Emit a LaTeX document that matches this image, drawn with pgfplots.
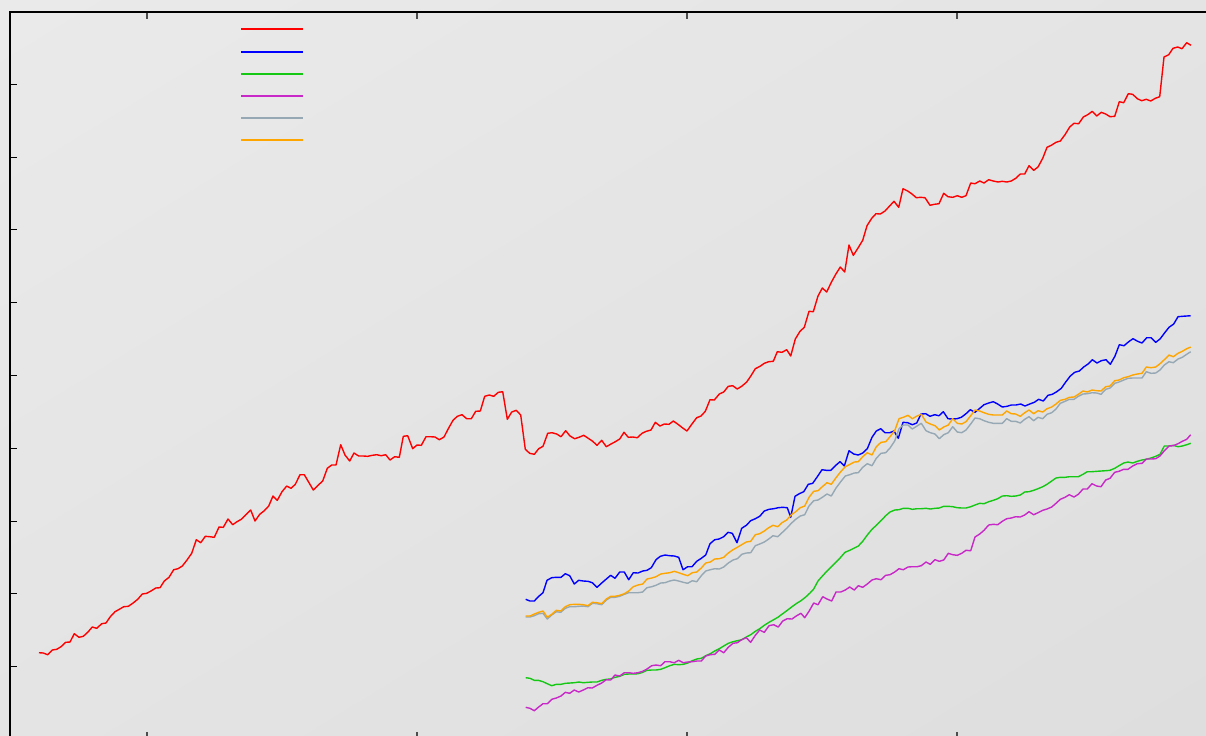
\documentclass[border=0pt]{standalone}
\usepackage{pgfplots}
\pgfplotsset{compat=1.18}
\usetikzlibrary{shadings}
\definecolor{bgA}{RGB}{234,234,234}
\definecolor{bgB}{RGB}{228,228,228}
\definecolor{bgC}{RGB}{222,222,222}
\definecolor{cRed}{RGB}{255,0,0}
\definecolor{cBlue}{RGB}{0,0,255}
\definecolor{cGreen}{RGB}{20,200,20}
\definecolor{cMag}{RGB}{200,40,200}
\definecolor{cGray}{RGB}{150,168,180}
\definecolor{cOrange}{RGB}{255,165,0}
\begin{document}
\begin{tikzpicture}
\path[use as bounding box] (0,0) rectangle (603bp,-368bp);
\shade[upper left=bgA, upper right=bgB, lower left=bgB, lower right=bgC] (0,0) rectangle (603bp,-368bp);
\clip (0,0) rectangle (603bp,-368bp);
\begin{axis}[
  at={(5bp,-5.8bp)}, anchor=north west,
  scale only axis, width=610bp, height=363.85bp,
  xmin=10, xmax=1230, ymin=11.6, ymax=739.3, y dir=reverse,
  axis line style={line width=1bp, black},
  xtick={146.7,416.7,686.7,956.7},
  ytick={84.3,157.1,229.9,302.7,375.5,448.3,521.1,593.9,666.7},
  xticklabels={}, yticklabels={},
  tick align=inside, major tick length=3.5bp,
  x tick style={line width=1bp, black!70},
  y tick style={line width=0.5bp, black},
  legend style={at={(axis description cs:0.1885,0.9913)}, anchor=north west,
    draw=none, fill=none, inner sep=0pt, row sep=0pt, column sep=0pt,
    nodes={inner sep=0pt, minimum height=11.1bp, text depth=0pt, text height=0pt}},
  legend image code/.code={\draw[#1, line width=0.95bp] (0bp,0bp) -- (31bp,0bp);},
  every axis plot/.append style={line width=0.7bp, line join=round},
]
\addplot[color=cRed, mark=none] coordinates {(39,652.7)(43.3,653)(47.7,654.7)(52.3,650)(56.7,649.3)(61,646.7)(65.7,642.3)(70,642)(74.3,633.7)(79,637.3)(83.3,636.3)(87.7,632.3)(92.3,627)(96.7,628.3)(101.7,623.7)(106,623)(110.3,616.7)(115,611.7)(119.3,609.3)(123.7,606.7)(128.3,606.3)(132.7,603.3)(137.7,599.3)(142.3,594)(146.7,593.3)(151,591)(155.7,588)(160,587.7)(164.3,581)(169,577.3)(173.7,569.7)(178,568.7)(182.3,566)(187,560)(191.7,553.3)(196.3,539.7)(200.7,542.7)(205.3,536.3)(209.7,536.7)(214.3,537.3)(219,527)(223.3,527.3)(228,519)(232.7,524.7)(237,521.7)(241.7,519)(246.3,514.3)(250.7,510)(255,521)(259.7,514.3)(264.3,510.7)(268.7,506)(273,496)(277.3,500.3)(282,491.7)(286.7,486)(291,488.3)(295.3,484.3)(300,474.7)(304.3,474.7)(309,482.7)(313.3,490)(318,485.3)(322.7,481)(327.3,468.3)(331.7,465)(336,465)(340.7,444.7)(345,455)(349.7,461)(354,453)(358.7,456)(363.3,456)(367.7,456.3)(372.3,455.3)(376.7,454.7)(381.3,455.7)(385.7,454.7)(390,460)(394.7,456.7)(399.3,457.3)(403.3,436.3)(407.7,435.7)(412.7,448.7)(417,445)(421.3,445.3)(426,436.7)(430.3,436.7)(435,437)(439.3,439.7)(444,437)(448.3,428.7)(453,420.3)(457.3,416.3)(462,414.7)(466.7,418.7)(471.3,418.7)(475.7,411.3)(480.3,411)(484.7,396.3)(489.3,395)(493.7,396.3)(498.3,392.3)(502.7,391.7)(507.3,419.3)(511.7,412)(516.3,410.3)(520.7,415)(525.3,449.3)(529.7,453.3)(534.3,454.3)(538.7,448.7)(543,446.3)(547.7,433.3)(552,432.7)(556.7,434)(561,436.7)(565.7,430.7)(570,436)(574.7,438.7)(579,437.3)(583.7,435.3)(588.3,438.3)(592.7,441.3)(597,445.3)(601.7,440.3)(606.3,446.7)(611,444)(615.3,441.7)(619.7,439)(624,432.3)(628.3,437.3)(633,437)(637.3,437.7)(642,433.3)(646.3,431.3)(651,430)(655.3,422.3)(660,426)(664.3,424)(669,424.3)(673.3,421)(678,424.3)(682.3,427.7)(687,431)(691.7,424.3)(696.7,417.7)(701,416)(705.3,411.3)(710,399.7)(714.3,400)(719.3,394)(723.7,392)(728.3,386.3)(732.7,385.7)(737.3,389)(742,386)(746.7,382)(751,375.7)(755.3,368.7)(760,366.3)(764.3,363.3)(768.7,361.7)(773.3,361.3)(777.3,351.7)(782,352.3)(786.7,349.7)(790.7,356)(795.3,339)(800,331.3)(804.3,327.3)(809,311.3)(813.3,311.7)(818,296)(822.3,288)(826.7,292)(831.3,282.3)(835.7,274.3)(840.3,267)(844.7,272)(849,245)(853.3,255.3)(858,248)(862.7,240.3)(867,225.7)(871.7,218.3)(876,213.7)(880.3,214)(885,211)(889.3,206.3)(894,201.3)(898.7,207.3)(903,188.7)(907.7,191)(912,194)(916.3,197.7)(920.7,197.3)(925,197.7)(930,205.3)(934.3,204.3)(939,203.7)(943.7,193.3)(948,196.7)(952.7,197.3)(957.3,195.7)(961.7,197.3)(966,195.7)(970.7,183)(975,183.7)(979.7,181)(984,183)(988.7,179.7)(993.3,181)(998,182)(1002.3,181.3)(1006.7,182)(1011.3,181)(1015.7,178.3)(1020.3,174)(1024.7,174)(1029,165.7)(1033.7,170.3)(1038,167)(1042.7,158.3)(1047,147.3)(1051.3,145.3)(1056,142.3)(1060.3,141)(1065,134.7)(1069.7,127)(1074,123.3)(1078.7,123.7)(1083.3,117)(1087.7,114.7)(1092.3,111.3)(1096.7,116)(1101.3,112.3)(1105.7,114)(1110,116.7)(1114.7,116.3)(1119.3,101.7)(1123.7,102.7)(1128.3,93.7)(1132.7,94.3)(1137.3,98.7)(1141.7,100.7)(1146.3,99.3)(1150.7,101)(1155.3,98.3)(1159.7,96.7)(1164,57)(1168.7,54.7)(1173,48.3)(1177.7,47)(1182,48.7)(1186.7,42.7)(1191,45.3)};
\addlegendentry{\mbox{}}
\addplot[color=cBlue, mark=none] coordinates {(525.7,599.3)(530,601)(534.3,601)(538.3,596.7)(543,592.7)(547,580.3)(551.7,577.7)(556.3,577.3)(561,577.3)(565.3,573.7)(569.7,575.7)(574.3,584)(578.7,580.3)(583.3,581)(588,581.3)(592.3,582.7)(597,587.3)(601.7,583)(606.3,579)(610.7,575.3)(615,578.3)(619.7,572)(624.3,572)(628.7,579.7)(633.3,572.7)(638,573)(642.7,571)(647,570.3)(651.3,567.7)(656,559.7)(660.3,556.3)(665,555)(669.7,555.7)(674.3,556)(678.7,557.3)(683,569.7)(687.7,566.7)(692,566.7)(696.7,561.3)(701.3,558.3)(705.7,555)(710,543.7)(714.7,539.7)(719,539)(723.7,536.7)(728,532.3)(732.3,533.3)(737,542.7)(741.7,528.3)(746.3,525.3)(750.7,520.7)(755.3,518.7)(759.7,516.3)(764.3,511)(769,509.3)(773.7,508.7)(778.3,507.7)(782.7,507.3)(787.3,507.7)(790.7,517.3)(795,496.3)(799.3,493.7)(803.7,491.7)(808.3,484.3)(812.7,483.3)(817.3,476.7)(822,469.7)(826.3,470.3)(830.7,470.3)(835.3,465.7)(840,461.7)(844.3,466)(849,450.7)(853.7,454)(858.3,455)(862.7,453)(867.3,448.7)(872,437.3)(876.3,431)(880.7,428.7)(885,432.7)(889.7,432.7)(894,431)(898.3,438.3)(903,422.3)(907.7,422.7)(912.3,424.7)(916.7,423)(921,414)(925.7,413.7)(930,416.3)(934.7,414.7)(939,415.7)(943.3,411.7)(948,418.7)(952.3,419)(957,418.7)(961.3,417.3)(966,413.7)(970.3,409.7)(975,412.3)(979.3,408.7)(984,404.7)(988.7,403)(993.3,401.7)(997.7,404)(1002.3,407)(1007,406.3)(1011.3,405)(1016,405)(1020.7,404)(1025,406)(1029.7,404)(1034.3,402.3)(1038.7,399.3)(1043.3,401)(1048,395.3)(1052.3,394.3)(1056.7,391.7)(1061.3,388.3)(1065.7,382)(1070.3,376)(1074.7,372.3)(1079.3,371)(1083.7,367)(1088,364)(1092.3,359.7)(1097,363)(1101.3,360.7)(1106,359.7)(1110.3,364.3)(1115,356)(1119.3,344.7)(1124,345.7)(1128.7,341.7)(1133,338.7)(1137.7,341.3)(1142,343)(1146.7,337.7)(1151,337.7)(1155.7,342.3)(1160,339)(1164.7,332.7)(1169,327.3)(1173.7,324)(1178,316.7)(1182.3,316.3)(1186.7,316)(1190.7,315.7)};
\addlegendentry{\mbox{}}
\addplot[color=cGreen, mark=none] coordinates {(525.7,677.7)(530,678.3)(534.3,680.3)(538.3,680.3)(543,681.7)(547.3,683.7)(551.7,685.7)(556.3,684.3)(561,684.3)(565.3,683.3)(570,683)(574.3,682.7)(579,682)(583.3,682.7)(588,682.3)(592.3,682)(597,682)(601.7,680.3)(606.3,679.3)(610.7,679)(615,677.3)(619.7,676.3)(624.3,674.3)(628.7,674)(633.3,674)(638,673.7)(642.7,672.3)(647,670.3)(651.7,670)(656,670)(660.7,669.3)(665,667.7)(669.7,665.7)(674.3,664.3)(678.7,664.7)(683.3,664.3)(687.7,663)(692.3,660.7)(696.7,659)(701.3,658.3)(705.7,655.7)(710.3,653.7)(714.7,651)(719.3,648.7)(723.7,646)(728.3,643.3)(733,641.7)(737.3,640.7)(741.7,639.7)(746.3,637)(750.7,634.7)(755.3,631.3)(759.7,628.7)(764.3,625.3)(769,622.3)(773.7,619.7)(778.3,617)(782.7,613.7)(787.3,610.3)(792,606.7)(796.7,603.3)(801,600.7)(805.7,597)(810,593)(813.7,589)(818,581)(822.7,575.7)(827,571)(831.7,566.3)(836,562)(840.3,557.7)(845,552.3)(849.7,550.3)(854.3,548)(858.3,546)(862.7,541.3)(867.3,535)(872,529.3)(876.3,525.3)(881,520.7)(885.7,515.7)(890,512)(894.7,510)(899,509.7)(903.3,508.3)(908,508.3)(912.3,509.3)(917,508.7)(921.3,508.7)(926,508.3)(930.3,509)(935,508.3)(939.3,508)(943.7,506.3)(948.3,506.3)(952.7,506.7)(957.3,507.7)(961.7,508)(966,508)(970.7,506.7)(975,505)(979.7,503.3)(984,503.7)(988.7,501.7)(993.3,500.3)(997.7,498.7)(1002.3,496)(1006.7,495.7)(1011.3,496.3)(1015.7,496)(1020.3,495)(1024.7,492)(1029,491.7)(1033.7,490.3)(1038,488.7)(1042.7,486.7)(1047,484.3)(1051.7,481)(1056,478)(1060.3,477.3)(1065,477.3)(1069.3,476.7)(1074,476.7)(1078.3,476.7)(1083,474.3)(1087.3,471.7)(1092,471.7)(1096.7,471.3)(1101,471)(1105.7,470.7)(1110,470.3)(1114.7,468.3)(1119,465.7)(1123.7,463)(1128,462)(1132.7,463)(1137.3,461.3)(1142,460)(1146.3,459.3)(1151,458)(1155.7,456.3)(1160,454.3)(1164.3,446)(1169,446)(1173.3,445.3)(1178,446.7)(1182.3,446)(1186.7,444.7)(1190.7,443.3)};
\addlegendentry{\mbox{}}
\addplot[color=cMag, mark=none] coordinates {(525.7,707.3)(530,708.3)(534.3,710.7)(538.3,707.3)(543,703.7)(547.3,703.7)(551.7,699.3)(556.3,698)(561,696)(565.3,692.3)(569.7,693.3)(574.3,690)(578.7,692)(583.3,690)(588,687.7)(592.3,688)(597,685.3)(601.7,683)(606.3,679.7)(610.7,680)(615,675)(619.7,676)(624.3,672.7)(628.7,672.7)(633.3,673.3)(638,672.7)(642.7,671.3)(647,669)(651.7,665.7)(656,665)(660.7,665.7)(665,661.7)(669.7,661.7)(674.3,662.7)(678.7,660.3)(683.3,662.7)(687.7,662)(692.3,661.7)(696.7,661)(701.3,661)(705.7,656)(710.3,654.7)(714.7,654.3)(719.3,650)(723.7,652.7)(728.3,647.3)(733,643.3)(737.3,642.7)(741.7,639.7)(746.3,637.7)(750.7,642.3)(755.3,635.3)(759.7,630)(764.3,632.3)(769,625.7)(773.7,624.7)(778.3,627)(782.7,621)(787.3,618.7)(792,619)(796.7,615.7)(801,613.3)(804.7,617.7)(809,611.3)(813.7,603)(818,604.7)(822.7,596.7)(827,599)(831.7,601)(836,592)(840.7,592)(845.3,590)(849.7,587)(854.3,590)(858.3,585.7)(862.7,587.3)(867.3,584)(872,580)(876.3,578.7)(881,579.7)(885.7,575.3)(890,574.7)(894.7,572)(899,568.7)(903.3,569.7)(908,567)(912.3,566.7)(917,566.7)(921.3,565.7)(926,562)(930.3,564.3)(935,559.7)(939.3,561.3)(943.7,560)(948.3,553.3)(952.7,554.7)(957.3,555.3)(961.7,553.3)(966,550.3)(970.7,550.7)(975,537)(979.7,534)(984,530.3)(988.7,525)(993.3,524.3)(997.7,524.7)(1002.3,521.3)(1006.7,518.7)(1011.3,518)(1015.7,516.7)(1020.3,517)(1024.7,515)(1029,511.7)(1033.7,514.7)(1038,512.7)(1042.7,510.3)(1047,509)(1051.7,507)(1056,503.3)(1060.3,499.3)(1065,497.3)(1069.3,494.7)(1074,497)(1078.3,494.3)(1083,489)(1087.3,489)(1092,483.7)(1096.7,486)(1101,486.7)(1105.7,480)(1110,478.3)(1114.7,472.3)(1119,471.3)(1123.7,469.3)(1128,469.3)(1132.7,466)(1137.3,463.7)(1142,463.3)(1146.3,459)(1151,459)(1155.7,458.7)(1160,456)(1164.3,450.7)(1169,446)(1173.3,445.7)(1178,443.7)(1182.3,441.3)(1186.7,439.3)(1190.7,434.7)};
\addlegendentry{\mbox{}}
\addplot[color=cGray, mark=none] coordinates {(525.7,617)(530,617)(534.3,615.7)(538.7,613.7)(543,613.3)(547.3,619)(551.7,615)(556.3,611.7)(560.7,612.3)(565.3,608.3)(569.7,606.7)(574.3,606.7)(579,606.3)(583.3,606)(588,606.7)(592.3,603.3)(597,603.7)(601.7,604.7)(606.3,600)(610.7,597.3)(615,597.3)(619.7,596.3)(624.3,594.3)(628.7,592.7)(633.3,592.7)(638,592.7)(642.7,592)(647,587.7)(651.7,586.7)(656,585.3)(660.7,583)(665,582.7)(669.7,581)(674.3,580)(678.7,581)(683.3,582.3)(687.7,583.3)(692.3,580.7)(696.7,581.7)(701.3,575.7)(705.7,571)(710.3,569.7)(714.7,568.7)(719.3,569)(723.7,567)(728.3,563)(733,560)(737.3,558.7)(741.7,554.3)(746.3,553)(750.7,552.7)(755.3,545.7)(759.7,544)(764.3,542)(768.7,539)(773,535.7)(777.7,536.7)(782,532.7)(786.7,528.3)(791.3,523.3)(795.7,519.3)(800.3,516)(804.7,514.7)(809,506)(813.7,500.7)(818,500)(822.3,497.3)(827,494)(831.3,496)(836,488)(840.7,481.7)(845.3,476)(849.7,474.7)(854.3,473)(858.3,472.7)(862.7,467.3)(867.3,463.7)(872,465.7)(876.3,458.3)(881,453.3)(885.7,452.7)(890,448)(894.7,441)(899,428.7)(903.3,425)(908,425)(912.3,429)(917,426)(921.3,423.3)(926,430.7)(930.3,432.7)(935,434)(939.3,438.7)(943.7,434.7)(948.3,432.7)(952.7,426.7)(957.3,432)(961.7,432.7)(966,430)(970.7,424)(975,418)(979.7,418.7)(984,420.7)(988.7,422.3)(993.3,423.3)(997.7,423.3)(1002.3,423.3)(1006.7,418.7)(1011.3,421.3)(1015.7,421.3)(1020.3,423)(1024.7,419.3)(1029,416.7)(1033.7,420.7)(1038,417.3)(1042.7,418.7)(1047,414.3)(1051.7,412.7)(1056,409)(1060.3,403.3)(1065,401.3)(1069.3,399.3)(1074,399.3)(1078.3,396.3)(1083,394)(1087.3,393.7)(1092,392.7)(1096.7,393)(1101,394.3)(1105.7,389.3)(1110,388)(1114.7,383.3)(1119,382)(1123.7,380)(1128,378.3)(1132.7,378)(1137.3,378)(1142,378)(1146.3,371.7)(1151,373.3)(1155.7,373)(1160,370)(1164.3,365)(1169,361.7)(1173.3,362.7)(1178,359)(1182.3,357.3)(1186.7,354.3)(1190.7,351.7)};
\addlegendentry{\mbox{}}
\addplot[color=cOrange, mark=none] coordinates {(525.7,616)(530,616)(534.3,614)(538.7,612.3)(543,611)(547.3,617.3)(551.7,614.3)(556.3,610.3)(560.7,611)(565.3,606.7)(569.7,604.7)(574.3,604.3)(579,604.3)(583.3,604.7)(588,605.7)(592.3,602.3)(597,602.7)(601.7,603.7)(606.3,599)(610.7,596.3)(615,596.3)(619.7,595.3)(624.3,593.7)(628.7,591)(633.3,586.7)(638,585)(642.7,584)(647,579)(651.7,578)(656,576.7)(660.7,574)(665,573.3)(669.7,572.7)(674.3,571.3)(678.7,572.7)(683.3,574.3)(687.7,575.7)(692.3,572.7)(696.7,572)(701.3,568)(705.7,563)(710.3,562)(714.7,559)(719.3,558.7)(723.7,557.3)(728.3,553)(733,549.7)(737.3,547.3)(741.7,544.7)(746.3,542)(750.7,541.3)(755.3,534.7)(759.7,533.7)(764.3,531)(768.7,527.7)(773,525.3)(777.7,526.7)(782,522.7)(786.7,520)(791.3,514.7)(795.7,511.7)(800.3,507.7)(804.7,506)(809,497.3)(813.7,491.3)(818,490.7)(822.3,486.7)(827,482.7)(831.3,484.3)(836,477.7)(840.7,471.7)(845.3,466.7)(849.7,464.5)(854.3,462)(858.3,461.7)(862.7,456.7)(867.3,452.7)(872,455)(876.3,446.7)(881,442.3)(885.7,441.7)(890,436.7)(894.7,430.7)(899,418.7)(903.3,417.3)(908,415.3)(912.3,418.7)(917,416)(921.3,414.3)(926,422)(930.3,424)(935,425.7)(939.3,430)(943.7,427)(948.3,425)(952.7,418.7)(957.3,423.3)(961.7,424)(966,421.7)(970.7,415.7)(975,410)(979.7,411)(984,412.7)(988.7,414.3)(993.3,415)(997.7,415)(1002.3,415)(1006.7,411)(1011.3,413.7)(1015.7,414)(1020.3,416.3)(1024.7,412.7)(1029,410)(1033.7,413.7)(1038,410.7)(1042.7,412)(1047,408.7)(1051.7,407)(1056,404)(1060.3,400.3)(1065,399.3)(1069.3,397.3)(1074,397)(1078.3,394.3)(1083,391)(1087.3,392)(1092,390)(1096.7,390.7)(1101,391)(1105.7,386.7)(1110,386)(1114.7,380.7)(1119,380)(1123.7,377.7)(1128,376.7)(1132.7,375)(1137.3,374)(1142,373.3)(1146.3,367)(1151,367.7)(1155.7,367)(1160,363.7)(1164.3,359.7)(1169,355)(1173.3,356.7)(1178,353.3)(1182.3,351.3)(1186.7,348.7)(1190.7,347)};
\addlegendentry{\mbox{}}
\end{axis}
\end{tikzpicture}
\end{document}
